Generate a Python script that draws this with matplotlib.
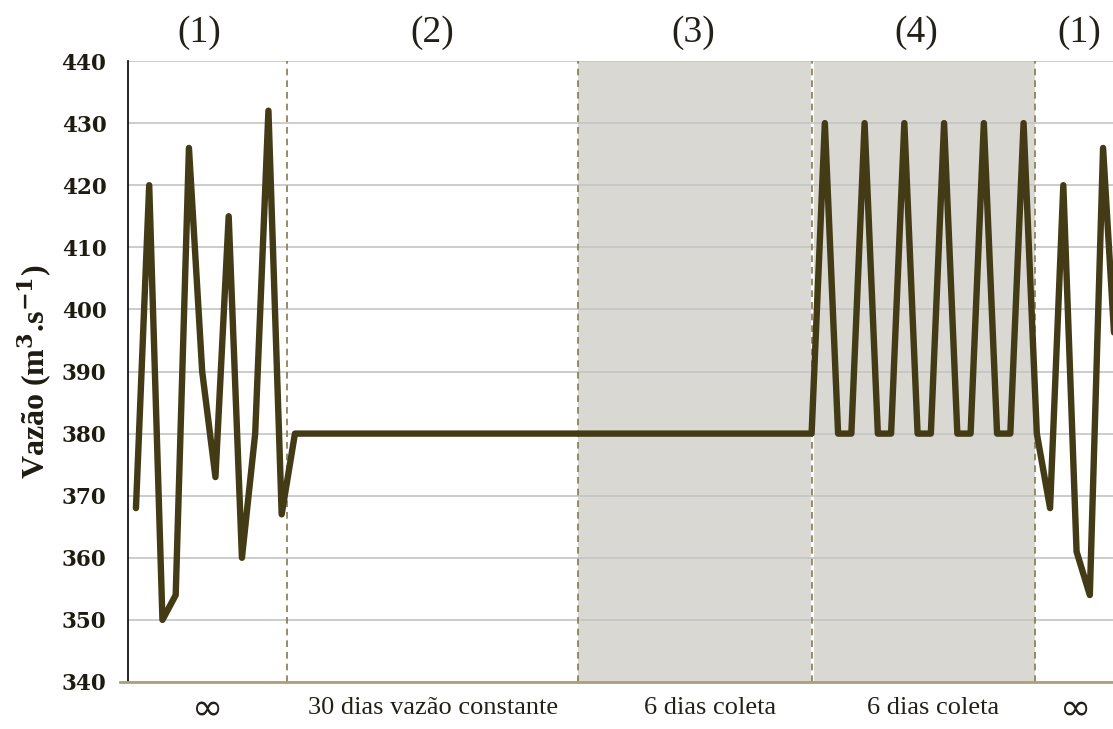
import matplotlib
matplotlib.use("Agg")
import matplotlib.pyplot as plt
import matplotlib.transforms as mtransforms

# ---- data ----
vazao = [368, 420, 350, 354, 426, 390, 373, 415, 360, 380, 432, 367,
         380, 380, 380, 380, 380, 380, 380, 380, 380, 380,
         380, 380, 380, 380, 380, 380, 380, 380, 380, 380,
         380, 380, 380, 380, 380, 380, 380, 380, 380, 380,
         380, 380, 380, 380, 380, 380, 380, 380, 380, 380,
         430, 380, 380, 430, 380, 380, 430, 380, 380, 430, 380, 380,
         430, 380, 380, 430,
         380, 368, 420, 361, 354, 426, 390]
dias = list(range(len(vazao)))

fase_limites = [11.4, 33.35, 51.0, 67.9]
fase_titulos = ["(1)", "(2)", "(3)", "(4)", "(1)"]
fase_titulos_x = [4.8, 22.4, 42.1, 58.9, 71.2]
fase_rotulos = ["\u221e", "30 dias vazão constante", "6 dias coleta", "6 dias coleta", "\u221e"]
fase_rotulos_x = [5.4, 22.4, 43.3, 60.2, 70.9]
yticks = [340, 350, 360, 370, 380, 390, 400, 410, 420, 430, 440]

plt.rcParams['mathtext.fontset'] = 'dejavuserif'

fig = plt.figure(figsize=(11.13, 7.29), dpi=100)
ax = fig.add_axes([128/1113, 1-682/729, 1-128/1113, (682-61)/729])

ax.set_xlim(-0.6, 73.75)
ax.set_ylim(340, 440)

# shading
ax.axvspan(fase_limites[1], fase_limites[3], color="#d9d8d3", zorder=0, lw=0)
ax.axvline(fase_limites[2], color="white", lw=2.2, zorder=0.5)

ax.set_yticks(yticks)
ax.yaxis.grid(True, color="#c4c4c4", lw=1.2, zorder=1)
ax.set_axisbelow(True)

for xv in fase_limites:
    ax.axvline(xv, color="#857a4c", lw=1.2, ls=(0, (4, 3)), zorder=2)

ax.plot(dias, vazao, color="#433a16", lw=4.6, solid_joinstyle="round",
        solid_capstyle="round", zorder=3)

for s in ["top", "right"]:
    ax.spines[s].set_visible(False)
ax.spines["left"].set_color("black")
ax.spines["left"].set_linewidth(1.2)
ax.spines["bottom"].set_color("#ada07a")
ax.spines["bottom"].set_linewidth(2)
ax.spines["bottom"].set_bounds(-1.2, 73.75)
ax.set_xticks([])
ax.tick_params(axis="y", length=0, pad=15.5)
for lab in ax.get_yticklabels():
    lab.set_fontfamily("DejaVu Serif")
    lab.set_fontweight("bold")
    lab.set_fontsize(15.5)
    lab.set_color("#1e1b10")

ax.set_ylabel("Vazão (m$^\\mathbf{3}$.s$^\\mathbf{-1}$)", fontfamily="Liberation Serif",
              fontweight="bold", fontsize=23, color="#1e1b10")
ax.yaxis.set_label_coords(-74/985, 0.5)

trans = mtransforms.blended_transform_factory(ax.transData, fig.transFigure)
for xv, t in zip(fase_titulos_x, fase_titulos):
    ax.text(xv, 1-33/729, t, transform=trans, ha="center", va="center",
            fontfamily="Liberation Serif", fontsize=27, color="#222018")
for xv, t in zip(fase_rotulos_x, fase_rotulos):
    if t == "\u221e":
        ax.text(xv, 1-710/729, t, transform=trans, ha="center", va="center",
                fontfamily="DejaVu Sans", fontsize=27, color="#222018")
    else:
        ax.text(xv, 1-708/729, t, transform=trans, ha="center", va="center",
                fontfamily="Liberation Serif", fontsize=19, color="#222018")

fig.savefig("out.png", dpi=100)
